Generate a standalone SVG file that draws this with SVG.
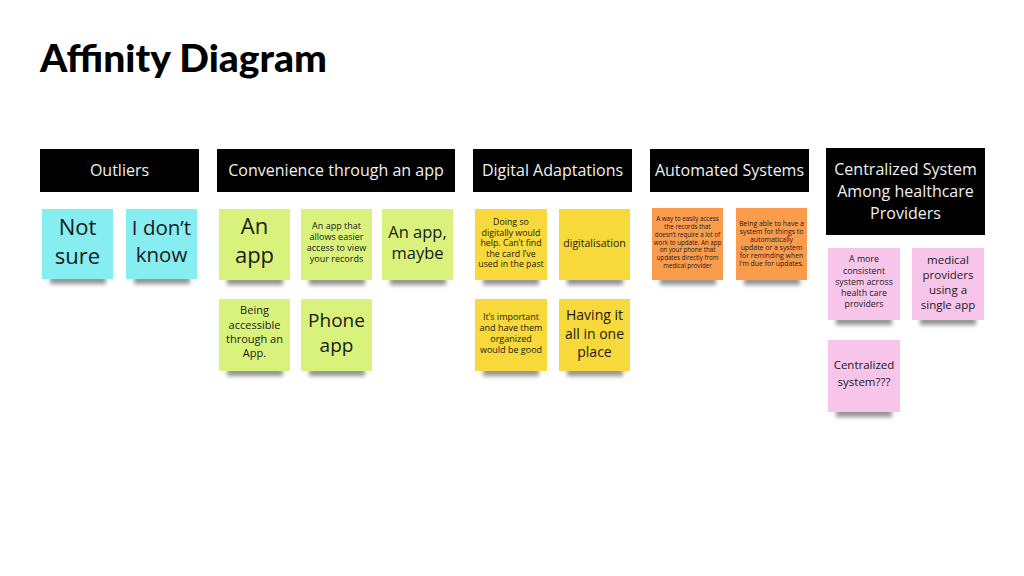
<svg xmlns="http://www.w3.org/2000/svg" width="1024" height="576" viewBox="0 0 1024 576">
<defs>
<filter id="blur" x="-20%" y="-100%" width="140%" height="300%"><feGaussianBlur stdDeviation="2.2"/></filter>
<style>
.hdr{fill:#000}
.ht{font-family:"Open Sans","Liberation Sans",sans-serif;fill:#f0f0f0;font-size:16px;text-anchor:middle}
.st{font-family:"Open Sans","Liberation Sans",sans-serif;fill:#1a1a1a;text-anchor:middle}
.sh{fill:#3a3a3a;opacity:0.55;filter:url(#blur)}
.cy{fill:#86eef1}
.gr{fill:#d8f27c}
.ye{fill:#f7d93b}
.or{fill:#fb9c4d}
.pk{fill:#f8c5ea}
.title{font-family:"Lato","Liberation Sans",sans-serif;font-weight:900;font-size:37px;fill:#000}
</style>
</defs>
<rect width="1024" height="576" fill="#fff"/>
<text class="title" x="40" y="72" textLength="287" lengthAdjust="spacingAndGlyphs">Affinity Diagram</text>

<g id="hdr-outliers"><rect class="hdr" x="40" y="149" width="159" height="43"/><text class="ht" x="119.5" y="175.5">Outliers</text></g>
<g id="hdr-convenience"><rect class="hdr" x="217" y="149" width="238" height="43"/><text class="ht" x="336" y="175.5">Convenience through an app</text></g>
<g id="hdr-digital"><rect class="hdr" x="473" y="149" width="159" height="43"/><text class="ht" x="552.5" y="175.5">Digital Adaptations</text></g>
<g id="hdr-automated"><rect class="hdr" x="650" y="149" width="159" height="43"/><text class="ht" x="729.5" y="175.5">Automated Systems</text></g>
<g id="hdr-centralized"><rect class="hdr" x="826" y="148" width="159" height="87"/><text class="ht" x="905.5" y="175">Centralized System</text><text class="ht" x="905.5" y="197">Among healthcare</text><text class="ht" x="905.5" y="219">Providers</text></g>

<g id="n-not-sure"><rect class="sh" x="50" y="276" width="56" height="8"/><rect class="cy" x="42" y="209" width="71" height="70"/><text class="st" style="font-size:22px" x="77.5" y="235">Not</text><text class="st" style="font-size:22px" x="77.5" y="264">sure</text></g>
<g id="n-dont-know"><rect class="sh" x="134" y="276" width="56" height="8"/><rect class="cy" x="126" y="209" width="71" height="70"/><text class="st" style="font-size:20.5px" x="161.5" y="235">I don’t</text><text class="st" style="font-size:20.5px" x="161.5" y="262">know</text></g>

<g id="n-an-app"><rect class="sh" x="227" y="277" width="56" height="8"/><rect class="gr" x="219" y="209" width="71" height="71"/><text class="st" style="font-size:22px" x="254.5" y="234">An</text><text class="st" style="font-size:22px" x="254.5" y="263">app</text></g>
<g id="n-app-easier"><rect class="sh" x="309" y="277" width="56" height="8"/><rect class="gr" x="301" y="209" width="71" height="71"/><text class="st" style="font-size:9px" x="336.5" y="229">An app that</text><text class="st" style="font-size:9px" x="336.5" y="240">allows easier</text><text class="st" style="font-size:9px" x="336.5" y="251">access to view</text><text class="st" style="font-size:9px" x="336.5" y="262">your records</text></g>
<g id="n-app-maybe"><rect class="sh" x="390" y="277" width="56" height="8"/><rect class="gr" x="382" y="209" width="71" height="71"/><text class="st" style="font-size:16.5px" x="417.5" y="238">An app,</text><text class="st" style="font-size:16.5px" x="417.5" y="259">maybe</text></g>
<g id="n-accessible"><rect class="sh" x="227" y="368" width="56" height="8"/><rect class="gr" x="219" y="299" width="71" height="72"/><text class="st" style="font-size:11px" x="254.5" y="314">Being</text><text class="st" style="font-size:11px" x="254.5" y="328.5">accessible</text><text class="st" style="font-size:11px" x="254.5" y="343">through an</text><text class="st" style="font-size:11px" x="254.5" y="357">App.</text></g>
<g id="n-phone-app"><rect class="sh" x="309" y="368" width="56" height="8"/><rect class="gr" x="301" y="299" width="71" height="72"/><text class="st" style="font-size:19px" x="336.5" y="327">Phone</text><text class="st" style="font-size:19px" x="336.5" y="352">app</text></g>

<g id="n-doing-digitally"><rect class="sh" x="483" y="277" width="56" height="8"/><rect class="ye" x="475" y="209" width="72" height="71"/><text class="st" style="font-size:8.8px" x="511" y="225">Doing so</text><text class="st" style="font-size:8.8px" x="511" y="235.5">digitally would</text><text class="st" style="font-size:8.8px" x="511" y="246">help. Can’t find</text><text class="st" style="font-size:8.8px" x="511" y="256.5">the card I’ve</text><text class="st" style="font-size:8.8px" x="511" y="267">used in the past</text></g>
<g id="n-digitalisation"><rect class="sh" x="567" y="277" width="56" height="8"/><rect class="ye" x="559" y="209" width="71" height="71"/><text class="st" style="font-size:10.5px" x="594.5" y="246.5">digitalisation</text></g>
<g id="n-important"><rect class="sh" x="483" y="368" width="56" height="8"/><rect class="ye" x="475" y="299" width="72" height="72"/><text class="st" style="font-size:9px" x="511" y="319.5">It’s important</text><text class="st" style="font-size:9px" x="511" y="330.5">and have them</text><text class="st" style="font-size:9px" x="511" y="341.5">organized</text><text class="st" style="font-size:9px" x="511" y="352.5">would be good</text></g>
<g id="n-all-in-one"><rect class="sh" x="567" y="368" width="56" height="8"/><rect class="ye" x="559" y="299" width="71" height="72"/><text class="st" style="font-size:14px" x="594.5" y="320">Having it</text><text class="st" style="font-size:14px" x="594.5" y="338.5">all in one</text><text class="st" style="font-size:14px" x="594.5" y="357">place</text></g>

<g id="n-easily-access"><rect class="sh" x="660" y="277" width="56" height="8"/><rect class="or" x="652" y="208" width="71" height="72"/><text class="st" style="font-size:6.2px" x="687.5" y="221">A way to easily access</text><text class="st" style="font-size:6.2px" x="687.5" y="229">the records that</text><text class="st" style="font-size:6.2px" x="687.5" y="236.5">doesn’t require a lot of</text><text class="st" style="font-size:6.2px" x="687.5" y="244.5">work to update. An app</text><text class="st" style="font-size:6.2px" x="687.5" y="252">on your phone that</text><text class="st" style="font-size:6.2px" x="687.5" y="260">updates directly from</text><text class="st" style="font-size:6.2px" x="687.5" y="268">medical provider</text></g>
<g id="n-reminding"><rect class="sh" x="744" y="277" width="56" height="8"/><rect class="or" x="736" y="208" width="71" height="72"/><text class="st" style="font-size:6.9px" x="771.5" y="225.5">Being able to have a</text><text class="st" style="font-size:6.9px" x="771.5" y="233.5">system for things to</text><text class="st" style="font-size:6.9px" x="771.5" y="241.5">automatically</text><text class="st" style="font-size:6.9px" x="771.5" y="249.5">update or a system</text><text class="st" style="font-size:6.9px" x="771.5" y="257.5">for reminding when</text><text class="st" style="font-size:6.9px" x="771.5" y="265.5">I’m due for updates.</text></g>

<g id="n-consistent"><rect class="sh" x="836" y="317" width="56" height="8"/><rect class="pk" x="828" y="248" width="72" height="72"/><text class="st" style="font-size:8.8px" x="864" y="262">A more</text><text class="st" style="font-size:8.8px" x="864" y="274">consistent</text><text class="st" style="font-size:8.8px" x="864" y="285">system across</text><text class="st" style="font-size:8.8px" x="864" y="296">health care</text><text class="st" style="font-size:8.8px" x="864" y="307">providers</text></g>
<g id="n-single-app"><rect class="sh" x="920" y="317" width="56" height="8"/><rect class="pk" x="912" y="248" width="72" height="72"/><text class="st" style="font-size:11.5px" x="948" y="264">medical</text><text class="st" style="font-size:11.5px" x="948" y="279">providers</text><text class="st" style="font-size:11.5px" x="948" y="294">using a</text><text class="st" style="font-size:11.5px" x="948" y="309">single app</text></g>
<g id="n-centralized"><rect class="sh" x="836" y="409" width="56" height="8"/><rect class="pk" x="828" y="340" width="72" height="72"/><text class="st" style="font-size:11.5px" x="864" y="369">Centralized</text><text class="st" style="font-size:11.5px" x="864" y="386">system???</text></g>
<g id="connectors"/>
</svg>
